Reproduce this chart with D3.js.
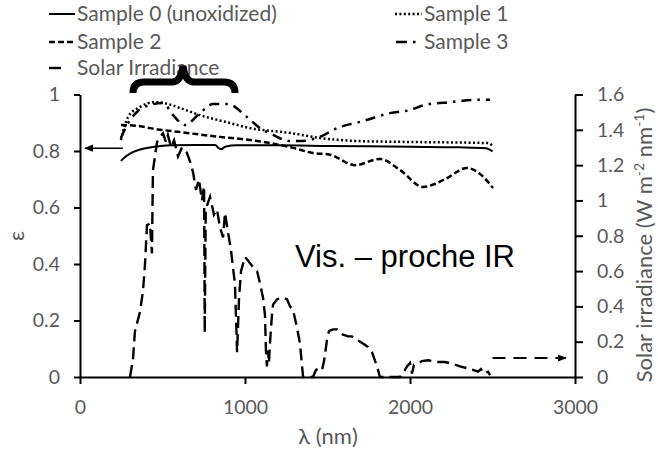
<!DOCTYPE html>
<html><head><meta charset="utf-8">
<script src="https://cdn.jsdelivr.net/npm/d3@7"></script>
<style>
html,body{margin:0;padding:0;background:#fff;}
svg{display:block;}
</style></head>
<body>
<svg id="c" width="658" height="451"></svg>
<script>
// ---------- data ----------
const xTicks = [0, 1000, 2000, 3000];
const yLeftTicks = [0, 0.2, 0.4, 0.6, 0.8, 1];
const yRightTicks = [0, 0.2, 0.4, 0.6, 0.8, 1, 1.2, 1.4, 1.6];
const seriesNames = ["Sample 0 (unoxidized)", "Sample 1", "Sample 2", "Sample 3", "Solar Irradiance"];

const sample0 = [[248,0.765],[280,0.782],[320,0.796],[380,0.808],[450,0.815],[550,0.82],[700,0.821],[820,0.821],[836,0.812],[855,0.806],[880,0.815],[950,0.82],[1200,0.82],[1500,0.818],[2000,0.815],[2300,0.813],[2460,0.81],[2500,0.798]];
const sample1 = [[248,0.839],[267,0.881],[291,0.92],[364,0.956],[455,0.973],[515,0.969],[606,0.952],[727,0.927],[909,0.899],[1030,0.881],[1273,0.864],[1455,0.846],[1697,0.835],[2000,0.832],[2473,0.828],[2500,0.818]];
const sample2 = [[248,0.892],[364,0.888],[424,0.881],[606,0.867],[848,0.85],[1030,0.839],[1152,0.828],[1291,0.811],[1412,0.793],[1515,0.787],[1667,0.75],[1818,0.772],[1939,0.733],[2079,0.673],[2212,0.70],[2345,0.74],[2424,0.719],[2503,0.669]];
const sample3 = [[248,0.846],[285,0.892],[345,0.938],[424,0.963],[503,0.97],[564,0.927],[636,0.892],[727,0.934],[806,0.966],[897,0.966],[1012,0.92],[1091,0.881],[1170,0.857],[1273,0.835],[1333,0.835],[1436,0.846],[1576,0.885],[1697,0.903],[1879,0.934],[2000,0.945],[2091,0.963],[2242,0.973],[2412,0.981],[2485,0.981]];
const solar = [[303,0],[321,0.10],[333,0.26],[364,0.37],[382,0.49],[394,0.64],[406,0.86],[424,0.87],[436,0.70],[442,1.17],[467,1.33],[485,1.36],[503,1.38],[521,1.33],[533,1.37],[552,1.30],[570,1.34],[594,1.25],[618,1.30],[648,1.27],[667,1.22],[685,1.16],[703,1.06],[721,1.12],[739,1.00],[752,1.08],[756,0.25],[762,0.95],[788,1.02],[812,0.92],[830,0.95],[848,0.85],[867,0.79],[879,0.93],[897,0.82],[915,0.72],[927,0.62],[939,0.53],[952,0.14],[964,0.45],[976,0.60],[1000,0.68],[1018,0.66],[1042,0.63],[1073,0.60],[1091,0.53],[1109,0.45],[1121,0.35],[1127,0.15],[1133,0.06],[1139,0.15],[1145,0.08],[1152,0.20],[1164,0.36],[1170,0.41],[1194,0.44],[1230,0.45],[1255,0.44],[1273,0.40],[1291,0.38],[1315,0.28],[1333,0.19],[1352,0],[1412,0],[1430,0.04],[1455,0.05],[1467,0.04],[1479,0.09],[1497,0.21],[1509,0.26],[1533,0.27],[1558,0.27],[1576,0.25],[1594,0.24],[1624,0.23],[1648,0.23],[1679,0.21],[1715,0.19],[1745,0.17],[1770,0.14],[1800,0.06],[1818,0],[1939,0],[1964,0.03],[1982,0.06],[2000,0.08],[2012,0.02],[2024,0.07],[2048,0.075],[2073,0.09],[2109,0.095],[2164,0.085],[2212,0.085],[2255,0.075],[2303,0.06],[2345,0.05],[2382,0.04],[2412,0.03],[2430,0.045],[2448,0.02],[2473,0.03],[2485,0.01]];

// annotation anchors (data units)
const leftArrow = {from:[260,0.81], to:[30,0.81]};
const rightArrow = {from:[2500,0.108], to:[2945,0.108]};
const annotText = "Vis. – proche IR";

// ---------- layout ----------
const svg = d3.select("#c");
const gray = "#595959";
const font = "Lato, 'Open Sans', sans-serif";
const x = d3.scaleLinear().domain([0,3000]).range([80,575]);
const yL = d3.scaleLinear().domain([0,1]).range([377,94.5]);
const yR = d3.scaleLinear().domain([0,1.6]).range([377,94.5]);

const fmt = d => String(+d.toFixed(1));

// axes
const gx = svg.append("g").attr("transform","translate(0,377)")
  .call(d3.axisBottom(x).tickValues(xTicks).tickSize(7).tickPadding(16).tickFormat(d=>String(d)).tickSizeOuter(0));
const gl = svg.append("g").attr("transform","translate(80,0)")
  .call(d3.axisLeft(yL).tickValues(yLeftTicks).tickSize(6).tickPadding(14).tickFormat(fmt).tickSizeOuter(0));
const gr = svg.append("g").attr("transform","translate(575,0)")
  .call(d3.axisRight(yR).tickValues(yRightTicks).tickSize(8).tickPadding(14).tickFormat(fmt).tickSizeOuter(0));
[gx,gl,gr].forEach(g=>{
  g.select(".domain").attr("stroke","#000").attr("stroke-width",2);
  g.selectAll(".tick line").attr("stroke","#000").attr("stroke-width",2);
  g.selectAll(".tick text").attr("fill",gray).style("font-family",font).style("font-size","19.5px");
});

// axis titles
svg.append("text").attr("x",328).attr("y",444).attr("text-anchor","middle")
  .attr("fill",gray).style("font-family",font).style("font-size","22px").text("λ (nm)");
svg.append("text").attr("transform","translate(24,236) rotate(-90)").attr("text-anchor","middle")
  .attr("fill",gray).style("font-family",font).style("font-size","22px").text("ε");
const rt = svg.append("text").attr("transform","translate(652,245) rotate(-90)").attr("text-anchor","middle")
  .attr("fill",gray).style("font-family",font).style("font-size","22px");
rt.append("tspan").text("Solar irradiance (W m");
rt.append("tspan").attr("dy","-8").style("font-size","14px").text("-2");
rt.append("tspan").attr("dy","8").text(" nm");
rt.append("tspan").attr("dy","-8").style("font-size","14px").text("-1");
rt.append("tspan").attr("dy","8").text(")");

// lines
const lineL = d3.line().x(d=>x(d[0])).y(d=>yL(d[1])).curve(d3.curveMonotoneX);
const lineR = d3.line().x(d=>x(d[0])).y(d=>yR(d[1])).curve(d3.curveLinear);
const styles = {
  s0:{dash:null, w:2},
  s1:{dash:"2 2.4", w:2.5},
  s2:{dash:"6 3", w:2.5},
  s3:{dash:"10 6 2.5 6", w:2.5},
  sol:{dash:"12 6", w:2.4}
};
svg.append("path").datum(solar).attr("d",lineR).attr("fill","none").attr("stroke","#000")
  .attr("stroke-width",styles.sol.w).attr("stroke-dasharray",styles.sol.dash);
[[sample0,styles.s0],[sample1,styles.s1],[sample2,styles.s2],[sample3,styles.s3]].forEach(([d,s])=>{
  const p = svg.append("path").datum(d).attr("d",lineL).attr("fill","none").attr("stroke","#000")
    .attr("stroke-width",s.w);
  if(s.dash) p.attr("stroke-dasharray",s.dash);
});

// arrows
const defs = svg.append("defs");
defs.append("marker").attr("id","ah").attr("viewBox","0 0 10 10").attr("refX",9).attr("refY",5)
  .attr("markerWidth",9).attr("markerHeight",9).attr("markerUnits","userSpaceOnUse").attr("orient","auto")
  .append("path").attr("d","M0,1 L10,5 L0,9 Z").attr("fill","#000");
svg.append("line").attr("x1",x(leftArrow.from[0])).attr("y1",yL(leftArrow.from[1]))
  .attr("x2",x(leftArrow.to[0])).attr("y2",yL(leftArrow.to[1]))
  .attr("stroke","#000").attr("stroke-width",1.5).attr("marker-end","url(#ah)");
svg.append("line").attr("x1",x(rightArrow.from[0])).attr("y1",yR(rightArrow.from[1]))
  .attr("x2",x(rightArrow.to[0])).attr("y2",yR(rightArrow.to[1]))
  .attr("stroke","#000").attr("stroke-width",2).attr("stroke-dasharray","13 8").attr("marker-end","url(#ah)");

// annotation text
svg.append("text").attr("x",295).attr("y",267).attr("fill","#000")
  .style("font-family","'Liberation Sans', Arial, sans-serif").style("font-size","31px").text(annotText);

// legend
const leg = [
  {name:seriesNames[0], x:49, y:14, len:26, tx:77, s:styles.s0},
  {name:seriesNames[1], x:395, y:14, len:27, tx:424, s:styles.s1},
  {name:seriesNames[2], x:49, y:42, len:26, tx:77, s:styles.s2},
  {name:seriesNames[3], x:396, y:42, len:21, tx:424, s:{dash:"11 6 2.5 6", w:2.5}},
  {name:seriesNames[4], x:49, y:68, len:13, tx:77, s:styles.sol}
];
leg.forEach(l=>{
  const ln = svg.append("line").attr("x1",l.x).attr("x2",l.x+l.len).attr("y1",l.y).attr("y2",l.y)
    .attr("stroke","#000").attr("stroke-width",l.s.w);
  if(l.s.dash) ln.attr("stroke-dasharray",l.s.dash);
  svg.append("text").attr("x", l.tx).attr("y",l.y).attr("dy","0.35em")
    .attr("fill",gray).style("font-family",font).style("font-size","21px").text(l.name);
});

// brace
svg.append("path")
  .attr("d","M133,93 Q133,82 144,82 L172,82 Q181,82 183,66 Q185,82 194,82 L224,82 Q235,82 235,93")
  .attr("fill","none").attr("stroke","#000").attr("stroke-width",7);
</script>
</body></html>
